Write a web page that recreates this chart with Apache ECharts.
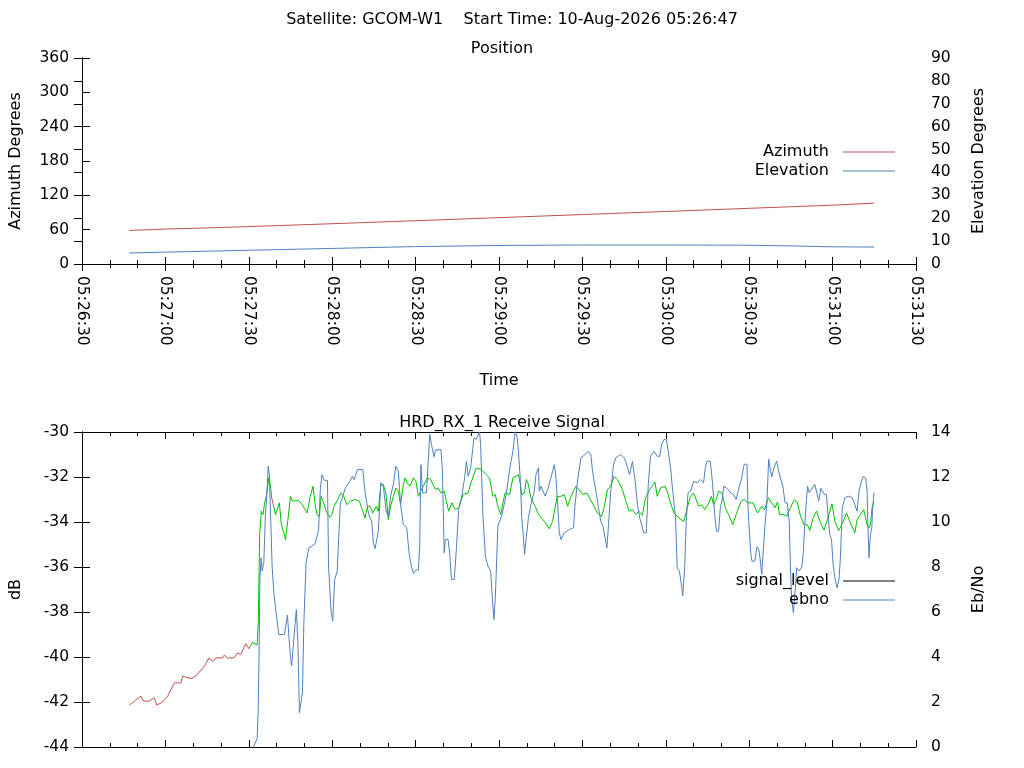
<!DOCTYPE html>
<html>
<head>
<meta charset="utf-8">
<title>GCOM-W1 pass</title>
<script src="https://cdn.jsdelivr.net/npm/echarts@6/dist/echarts.min.js"></script>
<style>
  html, body { margin: 0; padding: 0; background: #fff; }
  #main { width: 1024px; height: 768px; }
</style>
</head>
<body>
<div id="main"></div>
<script>
// seconds are counted from the left edge of the time axis, 05:26:30
var axisStart = '05:26:30';
var xTicks = [0, 300, 30]; // min, max, interval (s)

// position plot
var azTime = [17, 30, 60, 90, 120, 150, 180, 210, 240, 270, 285];
var azimuth = [58.6, 61.0, 65.3, 70.4, 75.6, 81.0, 86.4, 91.8, 97.3, 102.8, 106.4];
var elTime = [17, 30, 60, 90, 120, 150, 180, 210, 240, 255, 270, 285];
var elevation = [4.8, 5.2, 6.0, 6.8, 7.6, 8.1, 8.3, 8.3, 8.2, 7.9, 7.5, 7.4];

// receive signal plot
var sigTime = [17.1, 18.9, 21.2, 22.1, 24.2, 26.0, 26.9, 29.0, 30.8, 33.2, 35.6, 36.2, 39.2, 40.9, 44.0, 45.7, 47.2, 48.1, 50.5, 51.1,
  52.3, 54.7, 55.9, 57.1, 58.9, 60.1, 61.3, 63.0, 63.4, 63.9, 64.5, 65.1, 65.7, 66.4, 67.2, 67.8, 68.2, 68.8, 69.6, 70.2,
  71.0, 71.7, 72.6, 73.2, 74.0, 75.0, 75.8, 76.8, 78.0, 79.2, 81.0, 82.1, 83.1, 83.7, 84.5, 85.4, 86.0, 86.9, 87.9, 89.1,
  89.9, 90.7, 92.0, 93.1, 94.1, 95.3, 96.5, 98.3, 99.8, 101.0, 101.8, 102.7, 103.6, 104.6, 105.8, 106.6, 107.5, 108.4, 109.4, 110.2,
  111.0, 112.0, 112.9, 113.8, 114.6, 115.6, 116.2, 117.0, 118.0, 119.2, 120.1, 121.0, 121.8, 122.8, 124.2, 125.4, 126.3, 127.2, 128.1, 129.1,
  130.3, 131.1, 131.9, 133.1, 134.3, 135.5, 137.1, 138.9, 140.1, 141.8, 143.6, 145.4, 146.6, 147.8, 148.7, 149.4, 150.6, 151.4, 152.2, 153.8,
  155.0, 157.0, 157.7, 158.2, 159.2, 159.8, 160.4, 161.5, 163.0, 164.2, 166.3, 168.1, 169.3, 170.9, 172.3, 173.5, 174.7, 175.9, 177.7, 179.2,
  180.1, 181.6, 184.2, 185.4, 186.9, 187.8, 189.0, 190.2, 191.4, 192.6, 194.4, 195.6, 196.8, 198.0, 199.2, 200.3, 201.6, 202.7, 204.2, 206.1,
  206.9, 208.1, 209.7, 210.5, 211.7, 212.9, 214.7, 216.5, 217.7, 218.9, 220.0, 220.9, 221.8, 222.8, 224.0, 225.2, 226.4, 227.2, 228.1, 229.0,
  230.2, 231.4, 232.6, 234.1, 235.3, 237.1, 238.2, 239.6, 241.4, 243.0, 244.5, 245.5, 246.9, 248.1, 249.3, 250.2, 250.9, 252.3, 253.5, 254.7,
  256.2, 257.3, 258.3, 259.7, 260.9, 261.8, 263.0, 264.2, 265.4, 266.9, 268.1, 269.8, 270.8, 272.2, 273.6, 275.0, 276.4, 278.0, 278.8, 280.4,
  281.2, 282.4, 283.1, 283.6, 284.2, 284.9];
var signalLevel = [-42.14, -41.96, -41.74, -41.96, -41.96, -41.81, -42.14, -42.0, -41.74, -41.15, -41.15, -40.85, -40.96, -40.85, -40.41, -40.04, -40.2, -40.04, -40.04, -39.92,
  -40.04, -40.04, -39.82, -39.89, -39.41, -39.63, -39.35, -39.47, -38.48, -34.56, -33.52, -33.67, -33.15, -32.78, -32.04, -32.4, -32.9, -33.23, -33.67, -33.45,
  -33.15, -34.12, -34.48, -34.78, -33.97, -32.86, -33.08, -33.05, -33.05, -33.23, -33.6, -32.86, -32.41, -33.08, -33.67, -33.75, -32.86, -33.15, -33.55, -33.79,
  -33.67, -33.3, -33.0, -32.71, -32.86, -33.23, -33.08, -33.0, -33.08, -33.52, -33.82, -33.3, -33.3, -33.6, -33.3, -33.52, -32.34, -32.34, -32.78, -33.9,
  -33.3, -32.86, -32.49, -32.63, -33.23, -32.34, -32.04, -32.26, -32.41, -32.04, -32.19, -32.86, -32.63, -32.41, -32.04, -32.11, -32.34, -32.56, -32.49, -32.71,
  -32.63, -33.08, -33.52, -33.15, -33.45, -33.37, -32.78, -32.71, -32.19, -31.6, -31.67, -31.9, -32.04, -32.86, -32.78, -33.23, -33.67, -33.15, -32.71, -32.78,
  -32.04, -31.9, -32.34, -32.78, -32.71, -32.11, -32.26, -32.93, -33.3, -33.67, -33.97, -34.3, -33.97, -32.86, -32.86, -32.78, -33.3, -32.86, -32.41, -32.63,
  -32.78, -32.71, -33.3, -33.6, -33.75, -33.37, -32.56, -32.41, -31.97, -32.11, -32.56, -33.05, -33.52, -33.45, -33.67, -33.52, -33.7, -32.93, -32.56, -32.22,
  -32.86, -32.49, -32.41, -32.63, -33.15, -33.6, -33.82, -33.97, -33.37, -32.86, -32.71, -33.0, -33.3, -33.23, -33.45, -33.23, -32.86, -33.23, -33.0, -32.63,
  -32.71, -33.37, -33.67, -34.12, -33.67, -33.08, -33.0, -33.15, -33.15, -33.6, -33.3, -33.47, -32.92, -33.15, -33.37, -33.11, -33.67, -33.67, -33.75, -33.4,
  -33.02, -33.12, -33.67, -34.12, -34.12, -34.38, -33.82, -33.52, -33.95, -34.36, -33.9, -33.2, -33.97, -34.38, -34.04, -33.6, -34.04, -34.48, -33.9, -33.6,
  -33.45, -34.12, -34.27, -34.1, -33.37, -33.1];
// spans where the receiver was not locked (drawn red)
var unlockedSpans = [[0, 60.6], [67.9, 69.0]];

var ebnoTime = [61.3, 63.0, 63.4, 63.7, 64.0, 64.4, 64.8, 65.4, 66.0, 66.4, 67.0, 67.4, 67.8, 68.4, 69.0, 69.6, 70.8, 72.8, 73.4, 73.9,
  74.5, 75.0, 75.4, 76.1, 76.6, 77.1, 77.7, 78.2, 78.9, 79.3, 79.8, 80.6, 81.6, 82.7, 83.9, 85.1, 85.7, 86.3, 87.2, 88.3,
  88.7, 89.6, 90.2, 90.9, 91.8, 92.9, 94.7, 96.5, 97.3, 97.9, 99.1, 101.0, 101.8, 103.1, 104.2, 104.8, 105.4, 106.0, 106.6, 107.5,
  108.4, 109.4, 110.2, 111.0, 112.0, 112.9, 113.8, 114.6, 115.6, 116.8, 117.7, 118.6, 119.2, 120.0, 121.0, 121.5, 121.9, 122.5, 123.9, 124.5,
  125.1, 125.7, 126.6, 127.2, 129.1, 129.6, 130.3, 130.7, 131.7, 132.3, 132.9, 133.9, 134.7, 135.5, 136.7, 137.7, 138.3, 138.9, 139.8, 141.0,
  141.8, 143.0, 143.4, 144.2, 145.1, 146.0, 147.0, 147.6, 148.2, 148.7, 149.6, 151.1, 152.6, 153.8, 155.0, 155.8, 156.5, 157.0, 157.7, 158.2,
  158.7, 159.2, 159.8, 160.6, 161.5, 162.7, 163.3, 164.2, 164.5, 165.1, 166.6, 167.5, 168.5, 169.3, 169.9, 170.5, 171.1, 171.7, 172.3, 172.9,
  173.5, 175.3, 176.8, 177.3, 178.3, 179.5, 180.9, 182.1, 183.0, 183.6, 184.2, 185.1, 185.8, 186.6, 187.4, 188.1, 188.8, 189.4, 190.2, 191.2,
  192.0, 193.8, 195.0, 195.6, 196.2, 197.0, 198.0, 198.9, 199.8, 200.6, 202.1, 203.0, 203.7, 204.5, 205.7, 206.9, 207.8, 208.5, 209.3, 210.2,
  210.9, 211.7, 212.5, 213.5, 214.1, 214.9, 215.6, 216.1, 216.8, 217.3, 218.0, 218.9, 220.0, 221.3, 222.4, 223.1, 223.6, 224.2, 224.8, 226.0,
  226.8, 227.6, 228.2, 229.0, 229.6, 230.4, 230.8, 231.4, 232.0, 233.2, 234.4, 235.3, 236.2, 237.3, 238.2, 239.2, 239.6, 240.2, 240.6, 241.0,
  242.0, 242.8, 243.4, 243.9, 244.5, 245.1, 245.7, 246.4, 247.0, 247.6, 248.1, 249.0, 249.9, 250.5, 251.1, 252.1, 252.9, 253.7, 254.4, 254.9,
  255.3, 255.9, 256.5, 257.1, 258.0, 258.9, 259.4, 260.0, 260.6, 261.0, 261.6, 262.4, 263.6, 264.4, 265.0, 265.8, 266.9, 267.8, 268.4, 269.0,
  269.6, 270.2, 270.8, 271.6, 272.3, 272.8, 273.5, 274.4, 275.6, 277.1, 278.0, 278.8, 279.5, 280.4, 281.0, 281.9, 282.4, 282.8, 283.1, 283.6,
  284.1, 284.4, 284.9];
var ebno = [-0.1, 0.37, 1.67, 4.19, 7.45, 8.41, 7.82, 8.19, 10.41, 11.0, 12.48, 12.1, 10.4, 8.0, 6.86, 6.19, 5.0, 5.0, 5.0, 5.86,
  4.78, 3.97, 3.6, 3.6, 5.4, 6.11, 4.5, 1.53, 1.53, 2.4, 5.5, 8.19, 8.85, 8.93, 9.05, 9.63, 11.4, 12.1, 11.85, 11.85,
  8.0, 6.04, 5.6, 7.45, 7.82, 10.8, 11.5, 11.85, 12.03, 11.89, 12.33, 12.33, 11.37, 10.33, 10.04, 9.08, 8.81, 8.81, 9.59, 11.74,
  11.59, 10.48, 10.26, 11.15, 11.67, 12.48, 12.26, 10.78, 9.89, 9.74, 8.56, 7.97, 7.71, 7.86, 7.86, 9.0, 12.55, 11.3, 11.3, 12.63,
  13.89, 13.45, 12.9, 13.2, 13.22, 12.41, 8.63, 9.22, 9.22, 8.56, 7.45, 7.45, 8.85, 10.56, 11.22, 12.03, 12.7, 12.03, 12.41, 13.74,
  13.67, 14.0, 13.44, 10.33, 8.48, 8.04, 7.82, 6.63, 5.67, 6.71, 9.81, 10.33, 11.22, 12.33, 13.14, 14.0, 13.8, 13.14, 11.81, 10.19,
  9.44, 8.56, 9.3, 10.19, 10.78, 11.37, 12.11, 12.41, 11.37, 11.59, 11.15, 11.44, 11.89, 12.26, 12.55, 11.96, 10.78, 9.52, 9.22, 9.15,
  9.52, 9.67, 9.74, 10.7, 11.89, 12.85, 13.0, 13.14, 13.0, 12.33, 11.81, 11.22, 10.63, 10.04, 9.81, 9.74, 8.85, 9.89, 11.37, 12.55,
  12.85, 13.0, 12.85, 12.7, 12.41, 12.11, 12.7, 11.89, 10.78, 10.19, 9.52, 9.52, 11.67, 12.92, 13.14, 12.92, 12.92, 13.44, 13.66, 13.66,
  13.14, 12.41, 11.37, 10.19, 7.97, 7.82, 7.22, 6.71, 7.97, 9.89, 11.3, 11.37, 11.81, 11.74, 11.89, 11.96, 11.74, 12.41, 12.7, 12.7,
  11.74, 10.33, 9.59, 9.59, 10.63, 11.07, 11.59, 11.67, 11.5, 11.3, 11.22, 11.0, 11.45, 11.96, 12.57, 12.57, 10.6, 9.3, 8.56, 8.26,
  8.26, 8.9, 8.8, 8.41, 7.67, 7.67, 9.89, 10.93, 12.8, 12.35, 12.0, 12.45, 12.7, 12.33, 12.0, 11.6, 10.85, 10.85, 10.0, 7.75,
  6.55, 5.97, 6.9, 7.97, 7.82, 8.0, 8.56, 9.89, 11.0, 11.59, 11.3, 11.46, 11.67, 11.26, 10.93, 11.5, 11.24, 11.22, 10.19, 9.44,
  9.22, 8.11, 7.52, 7.08, 7.45, 8.41, 10.63, 11.07, 11.15, 11.07, 10.78, 10.48, 11.37, 11.81, 12.03, 11.96, 11.37, 9.44, 8.41, 9.44,
  9.74, 10.63, 11.3];

var RED = '#c0504d', BLUE = '#4f81bd', GREEN = '#00c000';
var FONT = 'DejaVu Sans';
var TEXT = 16, TICK = 15.5;

function pairs(t, v) {
    return t.map(function (x, i) { return [x, v[i]]; });
}
function clock(sec) {
    var p = axisStart.split(':');
    var s = (+p[0]) * 3600 + (+p[1]) * 60 + (+p[2]) + sec;
    var hh = Math.floor(s / 3600), mm = Math.floor(s % 3600 / 60), ss = s % 60;
    return [hh, mm, ss].map(function (n) { return (n < 10 ? '0' : '') + n; }).join(':');
}

var txt = { color: '#000', fontFamily: FONT, fontSize: TEXT };

function timeAxis(grid, pos, labels) {
    return {
        type: 'value', gridIndex: grid, position: pos,
        min: xTicks[0], max: xTicks[1], interval: xTicks[2],
        axisLine: { lineStyle: { color: '#000', width: 1 } },
        axisTick: { inside: true, length: 7, lineStyle: { color: '#000' } },
        minorTick: { show: true, splitNumber: 3, length: 4, lineStyle: { color: '#000' } },
        splitLine: { show: false },
        axisLabel: labels ? {
            show: true, rotate: -90, margin: 12, color: '#000', fontFamily: FONT, fontSize: TICK,
            formatter: clock
        } : { show: false },
        name: labels ? 'Time' : '', nameLocation: 'middle', nameGap: 109,
        nameTextStyle: txt
    };
}
function valAxis(grid, pos, min, max, step, name, gap) {
    return {
        type: 'value', gridIndex: grid, position: pos,
        min: min, max: max, interval: step,
        axisLine: { show: true, lineStyle: { color: '#000', width: 1 } },
        axisTick: { show: true, inside: true, length: 8, lineStyle: { color: '#000' } },
        splitLine: { show: false },
        axisLabel: { color: '#000', fontFamily: FONT, fontSize: TICK, margin: pos === 'left' ? 13 : 15 },
        name: name, nameLocation: 'middle', nameGap: gap, nameRotate: 90,
        nameTextStyle: txt
    };
}
function lineSeries(name, x, y, data, color) {
    var s = {
        name: name, type: 'line', xAxisIndex: x, yAxisIndex: y, data: data,
        symbol: 'none', showSymbol: false, clip: true,
        lineStyle: { width: 1 },
        emphasis: { disabled: true }
    };
    if (color) {
        s.lineStyle.color = color;
        s.itemStyle = { color: color };
    }
    return s;
}

var pieces = [];
var prev = xTicks[0];
unlockedSpans.forEach(function (sp) {
    if (sp[0] > prev) pieces.push({ gte: prev, lt: sp[0], color: GREEN });
    pieces.push({ gte: sp[0], lt: sp[1], color: RED });
    prev = sp[1];
});
pieces.push({ gte: prev, color: GREEN });

function legendAt(name, color, top) {
    return {
        data: [{ name: name, icon: 'rect', itemStyle: { color: color } }],
        right: 129, top: top, align: 'right', orient: 'vertical', padding: 0,
        itemWidth: 52, itemHeight: 1, selectedMode: false,
        textStyle: { color: '#000', fontFamily: FONT, fontSize: TEXT, padding: [0, 9, 0, 0] }
    };
}

var chart = echarts.init(document.getElementById('main'));
chart.setOption({
    animation: false,
    backgroundColor: '#fff',
    title: [
        { text: 'Satellite: GCOM-W1    Start Time: 10-Aug-2026 05:26:47', left: 'center', top: 7,
          textStyle: { color: '#000', fontFamily: FONT, fontSize: TEXT, fontWeight: 'normal' } },
        { text: 'Position', left: 497, top: 36, textAlign: 'center',
          textStyle: { color: '#000', fontFamily: FONT, fontSize: TEXT, fontWeight: 'normal' } },
        { text: 'HRD_RX_1 Receive Signal', left: 497, top: 410, textAlign: 'center',
          textStyle: { color: '#000', fontFamily: FONT, fontSize: TEXT, fontWeight: 'normal' } }
    ],
    legend: [
        legendAt('Azimuth', RED, 144),
        legendAt('Elevation', BLUE, 163),
        legendAt('signal_level', '#000', 573),
        legendAt('ebno', BLUE, 592)
    ],
    grid: [
        { left: 79, top: 58, width: 837, height: 206 },
        { left: 79, top: 432, width: 837, height: 315 }
    ],
    xAxis: [
        timeAxis(0, 'bottom', true),
        timeAxis(0, 'top', false),
        timeAxis(1, 'bottom', false),
        timeAxis(1, 'top', false)
    ],
    yAxis: [
        valAxis(0, 'left', 0, 360, 60, 'Azimuth Degrees', 58),
        valAxis(0, 'right', 0, 90, 10, 'Elevation Degrees', 55),
        valAxis(1, 'left', -44, -30, 2, 'dB', 58),
        valAxis(1, 'right', 0, 14, 2, 'Eb/No', 55)
    ],
    visualMap: {
        type: 'piecewise', show: false, seriesIndex: 2, dimension: 0, pieces: pieces
    },
    series: [
        lineSeries('Azimuth', 0, 0, pairs(azTime, azimuth), RED),
        lineSeries('Elevation', 0, 1, pairs(elTime, elevation), BLUE),
        lineSeries('signal_level', 2, 2, pairs(sigTime, signalLevel), null),
        lineSeries('ebno', 2, 3, pairs(ebnoTime, ebno), BLUE)
    ]
});
</script>
</body>
</html>
